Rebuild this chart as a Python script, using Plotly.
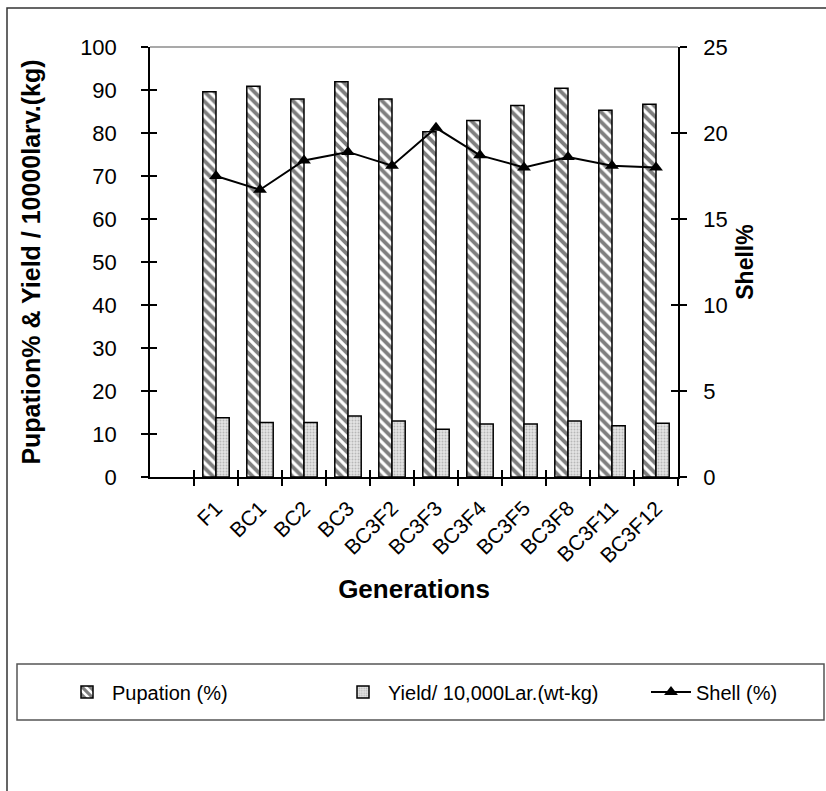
import plotly.graph_objects as go

# Generations (first slot on the category axis is left empty)
generations = ["F1", "BC1", "BC2", "BC3", "BC3F2", "BC3F3", "BC3F4",
               "BC3F5", "BC3F8", "BC3F11", "BC3F12"]
pupation = [89.6, 90.9, 87.9, 91.9, 87.9, 80.3, 82.9, 86.4, 90.4, 85.3, 86.7]
yield_kg = [13.8, 12.7, 12.7, 14.2, 13.0, 11.1, 12.3, 12.3, 13.0, 11.9, 12.5]
shell = [17.5, 16.7, 18.4, 18.9, 18.1, 20.3, 18.7, 18.0, 18.6, 18.1, 18.0]

left_ticks = list(range(0, 101, 10))
right_ticks = list(range(0, 26, 5))

FONT = "Liberation Sans, Arial, sans-serif"
W, H = 826, 791
PL, PR, PT, PB = 150, 678, 47, 477  # plot area in pixels


def px_x(x):
    return (x - PL) / (PR - PL)


def px_y(y):
    return (PB - y) / (PB - PT)


xpos = list(range(1, len(generations) + 1))

fig = go.Figure()

fig.add_trace(go.Bar(
    x=xpos, y=pupation, name="Pupation (%)", legend="legend",
    marker=dict(color="white", line=dict(color="black", width=1.5),
                pattern=dict(shape="\\", fgcolor="black", bgcolor="white",
                             size=7, solidity=0.55)),
))
fig.add_trace(go.Bar(
    x=xpos, y=yield_kg, name="Yield/ 10,000Lar.(wt-kg)", legend="legend2",
    marker=dict(color="#d8d8d8", line=dict(color="black", width=1.5),
                pattern=dict(shape=".", fgcolor="#8a8a8a", bgcolor="#e4e4e4",
                             size=3, solidity=0.35)),
))
fig.add_trace(go.Scatter(
    x=xpos, y=shell, name="Shell (%)", yaxis="y2", mode="lines+markers",
    legend="legend3",
    line=dict(color="black", width=2),
    marker=dict(symbol="triangle-up", size=12, color="black"),
))

axis_font = dict(family=FONT, size=22, color="black")


def legend_box(x_px):
    return dict(orientation="h", x=px_x(x_px), y=px_y(692),
                xanchor="left", yanchor="middle",
                font=dict(family=FONT, size=20, color="black"),
                bgcolor="rgba(0,0,0,0)", itemwidth=40)


fig.update_layout(
    width=W, height=H,
    margin=dict(l=PL, r=W - PR, t=PT, b=H - PB),
    paper_bgcolor="white", plot_bgcolor="white",
    font=dict(family=FONT, color="black"),
    barmode="group", bargap=0.4, bargroupgap=0,
    showlegend=True,
    legend=legend_box(62),
    legend2=legend_box(338),
    legend3=legend_box(646),
    xaxis=dict(
        range=[-0.5, len(generations) + 0.5],
        tickmode="array", tickvals=xpos, ticktext=generations,
        tickangle=-45, tickfont=dict(family=FONT, size=21, color="black"),
        ticks="outside", ticklen=9, tickcolor="rgba(0,0,0,0)",
        minor=dict(tickmode="array",
                   tickvals=[v + 0.5 for v in range(0, len(generations) + 1)],
                   ticks="outside", ticklen=7, tickcolor="black", tickwidth=1.5),
        showline=True, linecolor="black", linewidth=1.5,
        showgrid=False, zeroline=False,
        title=dict(text="<b>Generations</b>",
                   font=dict(family=FONT, size=26, color="black"), standoff=14),
    ),
    yaxis=dict(
        range=[0, 100], tickmode="array", tickvals=left_ticks,
        ticks="outside", ticklen=7, tickwidth=1.5, tickcolor="black",
        tickfont=axis_font, ticklabelstandoff=20,
        showline=True, linecolor="black", linewidth=1.5,
        showgrid=False, zeroline=False,
        title=dict(text="<b>Pupation% & Yield / 10000larv.(kg)</b>",
                   font=dict(family=FONT, size=25, color="black"), standoff=32),
    ),
    yaxis2=dict(
        range=[0, 25], overlaying="y", side="right", tickmode="array",
        tickvals=right_ticks,
        ticks="outside", ticklen=7, tickwidth=1.5, tickcolor="black",
        tickfont=axis_font, ticklabelstandoff=12,
        showline=True, linecolor="black", linewidth=1.5,
        showgrid=False, zeroline=False,
        title=dict(text="<b>Shell%</b>",
                   font=dict(family=FONT, size=23, color="black"), standoff=10),
    ),
)

# inner halves of the crossing tick marks
fig.update_layout(
    yaxis3=dict(range=[0, 100], overlaying="y", side="left", tickmode="array",
                tickvals=left_ticks, ticks="inside", ticklen=7, tickwidth=1.5,
                tickcolor="black", showticklabels=False, showline=False,
                showgrid=False, zeroline=False),
    yaxis4=dict(range=[0, 25], overlaying="y", side="right", tickmode="array",
                tickvals=right_ticks, ticks="inside", ticklen=7, tickwidth=1.5,
                tickcolor="black", showticklabels=False, showline=False,
                showgrid=False, zeroline=False),
    xaxis2=dict(range=[-0.5, len(generations) + 0.5], overlaying="x",
                anchor="y", side="bottom", tickmode="array",
                tickvals=[v + 0.5 for v in range(0, len(generations) + 1)],
                ticks="inside", ticklen=7, tickwidth=1.5, tickcolor="black",
                showticklabels=False, showline=False, showgrid=False,
                zeroline=False),
)
for ax_x, ax_y in (("x", "y3"), ("x", "y4"), ("x2", "y")):
    fig.add_trace(go.Scatter(x=[None], y=[None], xaxis=ax_x, yaxis=ax_y,
                             showlegend=False, hoverinfo="skip"))

# grey top edge of the plot area
fig.add_shape(type="line", xref="paper", yref="paper", x0=0, x1=1, y0=1, y1=1,
              line=dict(color="#8c8c8c", width=1.5))
# legend frame
fig.add_shape(type="rect", xref="paper", yref="paper",
              x0=px_x(17), x1=px_x(824), y0=px_y(720), y1=px_y(664),
              line=dict(color="#555555", width=1.5))
# outer chart frame
fig.add_shape(type="rect", xref="paper", yref="paper",
              x0=px_x(7), x1=px_x(900), y0=px_y(900), y1=px_y(8),
              line=dict(color="#333333", width=1.5))

fig.write_html("out.html")
